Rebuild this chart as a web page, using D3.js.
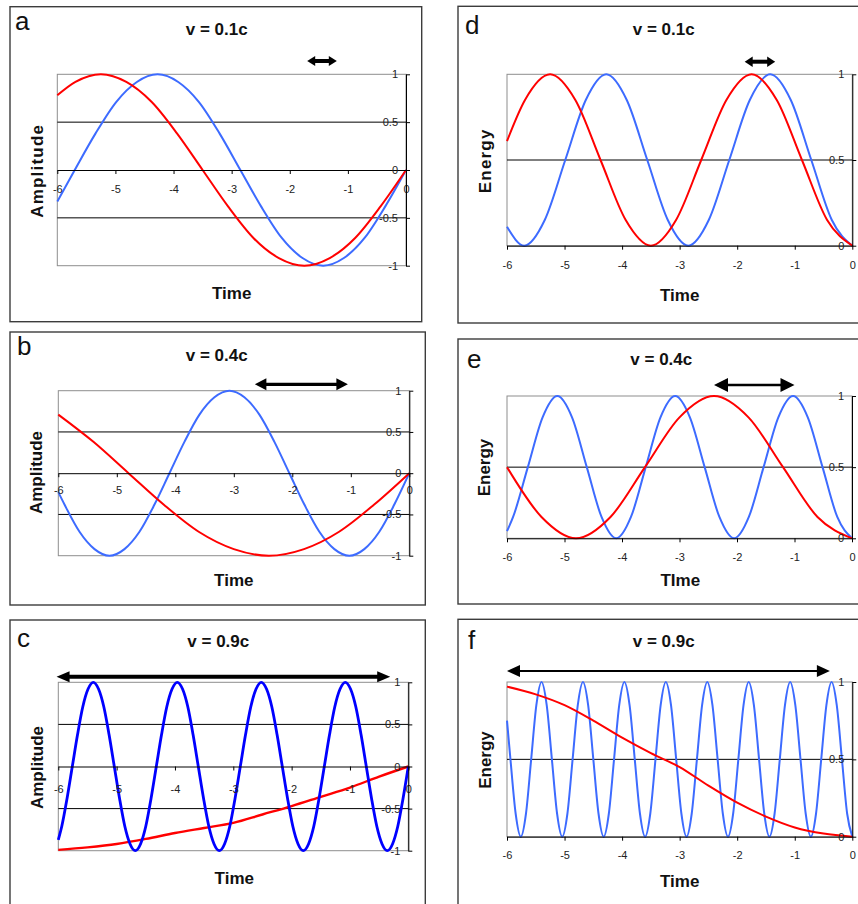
<!DOCTYPE html>
<html><head><meta charset="utf-8">
<script src="https://cdn.jsdelivr.net/npm/d3@7"></script>
<style>
body{margin:0;background:#fff}
svg{display:block}
text{font-family:Arial,"Liberation Sans",sans-serif}
</style>
</head><body><svg id="chart" width="858" height="904"></svg>
<script>
// ---------- tick labels / text ----------
const timeTicks = [-6, -5, -4, -3, -2, -1, 0];
const ampTicks = [-1, -0.5, 0, 0.5, 1];
const energyTicks = [0, 0.5, 1];
const panelLetters = ["a", "b", "c", "d", "e", "f"];
const panelTitles = ["v = 0.1c", "v = 0.4c", "v = 0.9c", "v = 0.1c", "v = 0.4c", "v = 0.9c"];
const yTitles = ["Amplitude", "Amplitude", "Amplitude", "Energy", "Energy", "Energy"];
const xTitles = ["Time", "Time", "Time", "Time", "TIme", "Time"];
// double-headed arrow spans (time units)
const arrowSpans = [[-1.70, -1.19], [-2.64, -1.05], [-6.03, -0.31], [-1.87, -1.34], [-2.40, -1.00], [-6.00, -0.39]];

// ---------- sample times ----------
const slowT01 = [-6, -5.6875, -5.25, -4.8125, -4.375, -3.9375, -3.5, -3.0625, -2.625, -2.1875, -1.75, -1.3125, -0.875, -0.4375, 0];
const fastT01 = [-6, -5.7, -5.344, -4.9875, -4.631, -4.275, -3.919, -3.5625, -3.206, -2.85, -2.494, -2.1375, -1.781, -1.425, -1.069, -0.7125, -0.356, 0];
const slowT04 = [-6, -5.4, -4.8, -4.2, -3.6, -3, -2.4, -1.8, -1.2, -0.6, 0];
const fastT04 = [-6, -5.894, -5.6375, -5.381, -5.125, -4.869, -4.6125, -4.356, -4.1, -3.844, -3.5875, -3.331, -3.075,
                 -2.819, -2.5625, -2.306, -2.05, -1.794, -1.5375, -1.281, -1.025, -0.769, -0.5125, -0.256, 0];
const slowT09 = [-6, -5.5, -5, -4.5, -4, -3.5, -3, -2.5, -2, -1.5, -1, -0.5, 0];
const fastT09 = [-6, -5.94, -5.85, -5.76, -5.67, -5.58, -5.49, -5.4, -5.31, -5.22, -5.13, -5.04, -4.95, -4.86, -4.77, -4.68,
                 -4.59, -4.5, -4.41, -4.32, -4.23, -4.14, -4.05, -3.96, -3.87, -3.78, -3.69, -3.6, -3.51, -3.42, -3.33, -3.24,
                 -3.15, -3.06, -2.97, -2.88, -2.79, -2.7, -2.61, -2.52, -2.43, -2.34, -2.25, -2.16, -2.07, -1.98, -1.89, -1.8,
                 -1.71, -1.62, -1.53, -1.44, -1.35, -1.26, -1.17, -1.08, -0.99, -0.9, -0.81, -0.72, -0.63, -0.54, -0.45, -0.36,
                 -0.27, -0.18, -0.09, 0];

// ---------- series values ----------
// panel a: amplitude, v = 0.1c
const aRedV  = [0.78, 0.92, 1, 0.92, 0.71, 0.38, 0, -0.38, -0.71, -0.92, -1, -0.92, -0.71, -0.38, 0];
const aBlueV = [-0.33, 0, 0.38, 0.71, 0.92, 1, 0.92, 0.71, 0.38, 0, -0.38, -0.71, -0.92, -1, -0.92, -0.71, -0.38, 0];
// panel b: amplitude, v = 0.4c
const bRedV  = [0.71, 0.38, 0, -0.38, -0.71, -0.92, -1, -0.92, -0.71, -0.38, 0];
const bBlueV = [-0.23, -0.38, -0.71, -0.92, -1, -0.92, -0.71, -0.38, 0, 0.38, 0.71, 0.92, 1,
                0.92, 0.71, 0.38, 0, -0.38, -0.71, -0.92, -1, -0.92, -0.71, -0.38, 0];
// panel c: amplitude, v = 0.9c
const cRedV  = [-0.99, -0.96, -0.92, -0.86, -0.79, -0.73, -0.67, -0.57, -0.47, -0.36, -0.25, -0.12, 0];
const cBlueV = [-0.87, -0.71, -0.38, 0,
                0.38, 0.71, 0.92, 1, 0.92, 0.71, 0.38, 0, -0.38, -0.71, -0.92, -1, -0.92, -0.71, -0.38, 0,
                0.38, 0.71, 0.92, 1, 0.92, 0.71, 0.38, 0, -0.38, -0.71, -0.92, -1, -0.92, -0.71, -0.38, 0,
                0.38, 0.71, 0.92, 1, 0.92, 0.71, 0.38, 0, -0.38, -0.71, -0.92, -1, -0.92, -0.71, -0.38, 0,
                0.38, 0.71, 0.92, 1, 0.92, 0.71, 0.38, 0, -0.38, -0.71, -0.92, -1, -0.92, -0.71, -0.38, 0];
// panel d: energy, v = 0.1c
const dRedV  = [0.61, 0.85, 1, 0.85, 0.5, 0.15, 0, 0.15, 0.5, 0.85, 1, 0.85, 0.5, 0.15, 0];
const dBlueV = [0.11, 0, 0.15, 0.5, 0.85, 1, 0.85, 0.5, 0.15, 0, 0.15, 0.5, 0.85, 1, 0.85, 0.5, 0.15, 0];
// panel e: energy, v = 0.4c
const eRedV  = [0.5, 0.15, 0, 0.15, 0.5, 0.85, 1, 0.85, 0.5, 0.15, 0];
const eBlueV = [0.05, 0.15, 0.5, 0.85, 1, 0.85, 0.5, 0.15, 0, 0.15, 0.5, 0.85, 1, 0.85, 0.5, 0.15, 0, 0.15, 0.5, 0.85, 1, 0.85, 0.5, 0.15, 0];
// panel f: energy, v = 0.9c
const fRedV  = [0.97, 0.92, 0.85, 0.75, 0.64, 0.54, 0.45, 0.33, 0.22, 0.13, 0.06, 0.02, 0];
const fBlueV = [0.75, 0.5, 0.15, 0,
                0.15, 0.5, 0.85, 1, 0.85, 0.5, 0.15, 0, 0.15, 0.5, 0.85, 1, 0.85, 0.5, 0.15, 0,
                0.15, 0.5, 0.85, 1, 0.85, 0.5, 0.15, 0, 0.15, 0.5, 0.85, 1, 0.85, 0.5, 0.15, 0,
                0.15, 0.5, 0.85, 1, 0.85, 0.5, 0.15, 0, 0.15, 0.5, 0.85, 1, 0.85, 0.5, 0.15, 0,
                0.15, 0.5, 0.85, 1, 0.85, 0.5, 0.15, 0, 0.15, 0.5, 0.85, 1, 0.85, 0.5, 0.15, 0];

// ---------- layout & style ----------
const RED = "#ff0000", BLUE = "#3d6bff", DARKBLUE = "#0000ff";
const layout = [
  {box:[10, 6.7, 421.7, 321.7], plot:[57.3, 74.3, 406, 265.7], letter:[15, 29.5], title:[216.7, 35], xt:[231.7, 299.3], yt:[42.5, 170.8], arrowY:61,    aw:4,   head:[8, 10],   xPad:11.6, ls:1.2},
  {box:[10, 332, 425.3, 605],   plot:[58.3, 390.7, 409.3, 555.7], letter:[17, 355], title:[216.7, 360.7], xt:[233.8, 586], yt:[42, 472.5], arrowY:384.3, aw:3.3, head:[11.5, 12], xPad:9, ls:0},
  {box:[10, 620, 425.3, 930],   plot:[58.3, 682.3, 408.3, 850.7], letter:[17, 647], title:[218.3, 647.3], xt:[234.3, 884], yt:[42.5, 767.5], arrowY:676.7, aw:4, head:[13, 11], xPad:15, ls:0},
  {box:[458, 6.3, 872, 323],    plot:[507, 74.3, 852.3, 245.7], letter:[465, 34], title:[663.7, 35], xt:[679.7, 300.7], yt:[491.3, 160.8], arrowY:61.7, aw:4, head:[8, 10.5], xPad:11.5, ls:1.2},
  {box:[458, 339, 872, 604],    plot:[507, 396, 852, 538.3], letter:[467, 368], title:[661.3, 365], xt:[680.3, 586], yt:[489.7, 467.5], arrowY:385, aw:2.3, head:[14, 14], xPad:10.5, ls:0},
  {box:[458, 619.3, 872, 930],  plot:[507, 682, 852.3, 836.7], letter:[468, 649], title:[663.7, 647.3], xt:[679.7, 887.3], yt:[491, 760], arrowY:671, aw:2, head:[13, 12], xPad:10.5, ls:0}
];
const panels = [
  {kind:"amp", series:[{t:fastT01, v:aBlueV, c:BLUE, w:2}, {t:slowT01, v:aRedV, c:RED, w:2}]},
  {kind:"amp", series:[{t:fastT04, v:bBlueV, c:BLUE, w:2}, {t:slowT04, v:bRedV, c:RED, w:2}]},
  {kind:"amp", series:[{t:slowT09, v:cRedV, c:RED, w:2.4}, {t:fastT09, v:cBlueV, c:DARKBLUE, w:2.8}]},
  {kind:"energy", series:[{t:fastT01, v:dBlueV, c:BLUE, w:2}, {t:slowT01, v:dRedV, c:RED, w:2}]},
  {kind:"energy", series:[{t:fastT04, v:eBlueV, c:BLUE, w:2}, {t:slowT04, v:eRedV, c:RED, w:2}]},
  {kind:"energy", series:[{t:fastT09, v:fBlueV, c:BLUE, w:2}, {t:slowT09, v:fRedV, c:RED, w:2}]}
];

const svg = d3.select("#chart");
svg.append("rect").attr("width", 858).attr("height", 904).attr("fill", "#fff");

panels.forEach((p, i) => {
  const L = layout[i];
  const g = svg.append("g");
  g.append("rect")
    .attr("x", L.box[0]).attr("y", L.box[1])
    .attr("width", L.box[2] - L.box[0]).attr("height", L.box[3] - L.box[1])
    .attr("fill", "none").attr("stroke", "#3c3c3c").attr("stroke-width", 1.4);

  const x = d3.scaleLinear().domain([-6, 0]).range([L.plot[0], L.plot[2]]);
  const y = d3.scaleLinear().domain(p.kind === "amp" ? [-1, 1] : [0, 1]).range([L.plot[3], L.plot[1]]);

  // plot-area border (grey)
  g.append("rect")
    .attr("x", x(-6)).attr("y", y.range()[1])
    .attr("width", x(0) - x(-6)).attr("height", y.range()[0] - y.range()[1])
    .attr("fill", "none").attr("stroke", "#8e8e8e").attr("stroke-width", 1);

  // gridlines
  const grid = p.kind === "amp" ? [-0.5, 0.5] : [0.5];
  g.selectAll(null).data(grid).join("line")
    .attr("x1", x(-6)).attr("x2", x(0))
    .attr("y1", d => y(d)).attr("y2", d => y(d))
    .attr("stroke", "#000").attr("stroke-width", 1);

  // series
  p.series.forEach(s => {
    const line = d3.line().x(k => x(s.t[k])).y(k => y(s.v[k])).curve(d3.curveMonotoneX);
    g.append("path").attr("d", line(d3.range(s.t.length)))
      .attr("fill", "none").attr("stroke", s.c).attr("stroke-width", s.w)
      .attr("stroke-linejoin", "round");
  });

  // x axis at value 0
  const gx = g.append("g").attr("transform", `translate(0,${y(0)})`)
    .call(d3.axisBottom(x).tickValues(timeTicks).tickFormat(d => String(d))
      .tickSize(4).tickSizeOuter(0).tickPadding(L.xPad));
  gx.attr("font-family", "Arial, 'Liberation Sans', sans-serif").attr("font-size", 11);
  gx.selectAll("text").attr("fill", "#222");
  gx.selectAll("line, path").attr("stroke", "#000");

  // y axis on the right
  const gy = g.append("g").attr("transform", `translate(${x(0)},0)`)
    .call(d3.axisLeft(y).tickValues(p.kind === "amp" ? ampTicks : energyTicks).tickFormat(d => String(d))
      .tickSize(-4).tickSizeOuter(0).tickPadding(8));
  gy.attr("font-family", "Arial, 'Liberation Sans', sans-serif").attr("font-size", 11);
  gy.selectAll("text").attr("fill", "#222");
  gy.selectAll("line, path").attr("stroke", "#000");

  // texts
  g.append("text").attr("x", L.letter[0]).attr("y", L.letter[1])
    .attr("font-size", 26).attr("fill", "#111").text(panelLetters[i]);
  g.append("text").attr("x", L.title[0]).attr("y", L.title[1]).attr("text-anchor", "middle")
    .attr("font-size", 17).attr("font-weight", "bold").attr("fill", "#111").text(panelTitles[i]);
  g.append("text").attr("x", L.xt[0]).attr("y", L.xt[1]).attr("text-anchor", "middle")
    .attr("font-size", 17).attr("font-weight", "bold").attr("fill", "#111").text(xTitles[i]);
  g.append("text").attr("transform", `translate(${L.yt[0]},${L.yt[1]}) rotate(-90)`)
    .attr("text-anchor", "middle").attr("letter-spacing", L.ls)
    .attr("font-size", 17).attr("font-weight", "bold").attr("fill", "#111").text(yTitles[i]);

  // double-headed arrow
  const [t0, t1] = arrowSpans[i];
  const xa = x(t0), xb = x(t1), ay = L.arrowY, hl = L.head[0], hh = L.head[1] / 2;
  g.append("line").attr("x1", xa + hl - 1).attr("x2", xb - hl + 1).attr("y1", ay).attr("y2", ay)
    .attr("stroke", "#000").attr("stroke-width", L.aw);
  g.append("path").attr("d", `M${xa},${ay}L${xa + hl},${ay - hh}L${xa + hl},${ay + hh}Z`).attr("fill", "#000");
  g.append("path").attr("d", `M${xb},${ay}L${xb - hl},${ay - hh}L${xb - hl},${ay + hh}Z`).attr("fill", "#000");
});
</script>
</body></html>
